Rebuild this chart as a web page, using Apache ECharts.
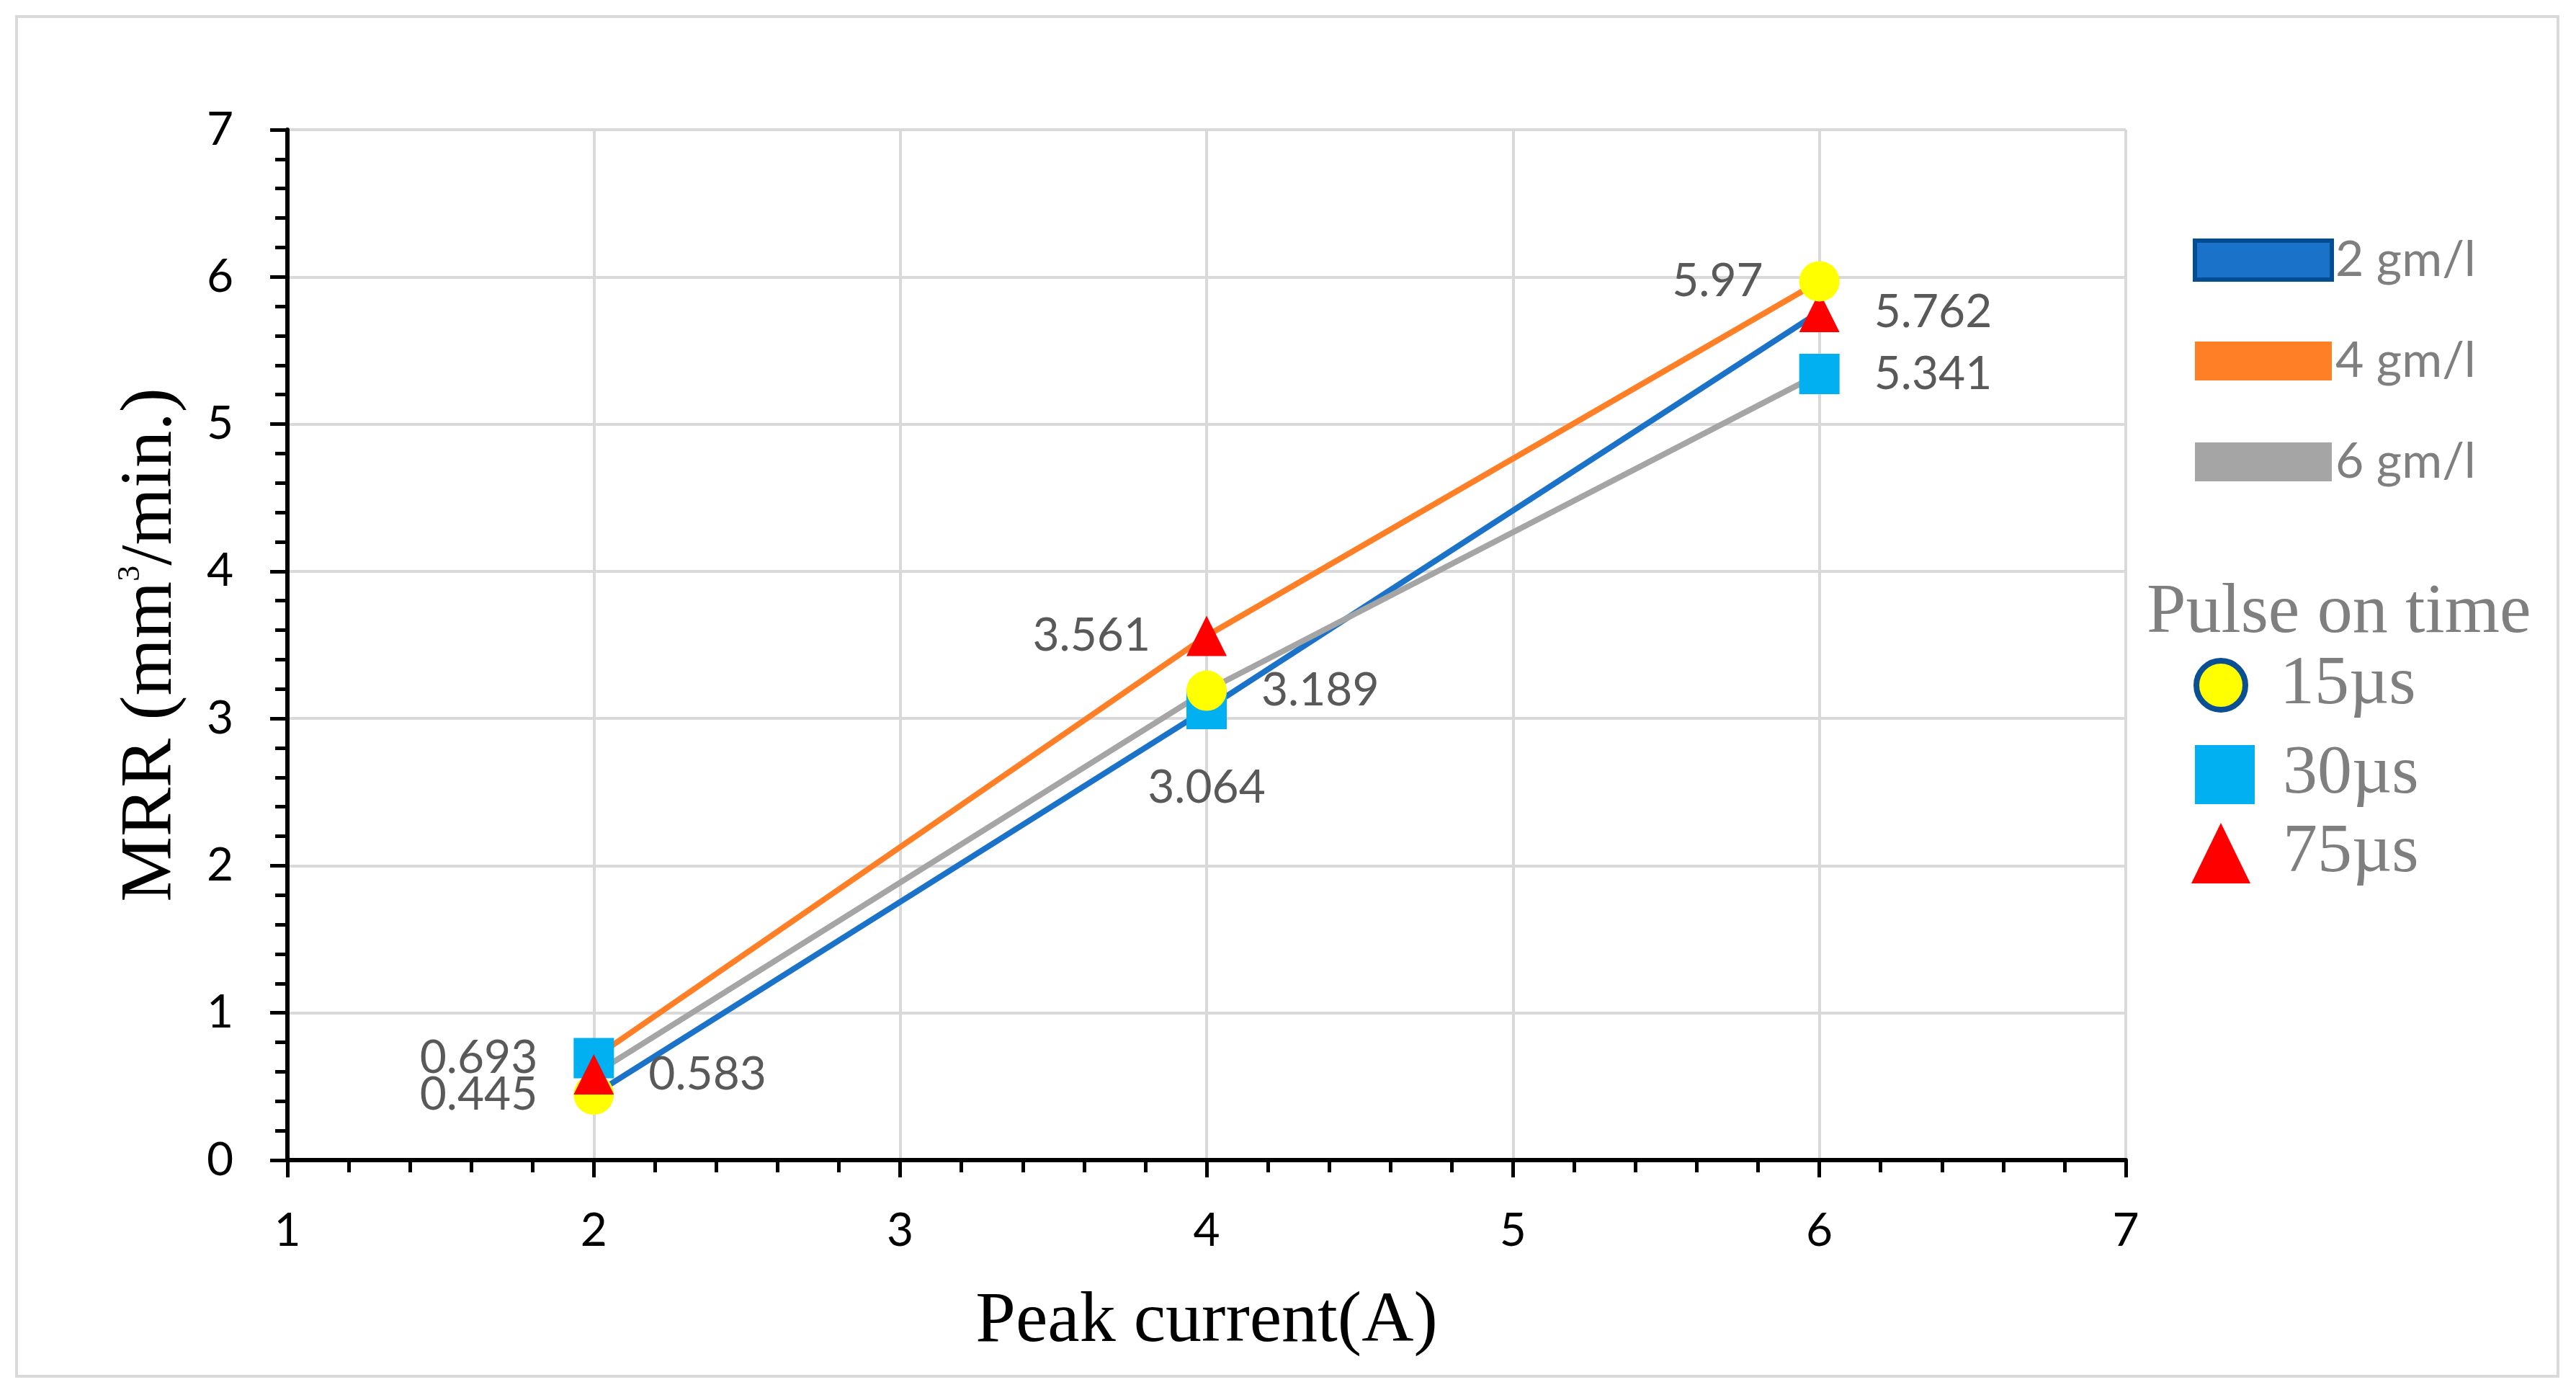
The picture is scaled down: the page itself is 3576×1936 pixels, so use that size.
<!DOCTYPE html>
<html><head><meta charset="utf-8">
<script src="https://cdn.jsdelivr.net/npm/echarts@6/dist/echarts.min.js"></script>
<style>html,body{margin:0;padding:0;background:#fff}#chart{width:3576px;height:1936px}</style>
</head><body><div id="chart"></div>
<script>
// ---- data ----
const peakCurrent = [2, 4, 6];
const seriesNames = ['2 gm/l', '4 gm/l', '6 gm/l'];
const mrr2 = [0.445, 3.064, 5.762];
const mrr4 = [0.693, 3.561, 5.97];
const mrr6 = [0.583, 3.189, 5.341];
const pulseNames = ['15µs', '30µs', '75µs'];
const pulse2 = ['15µs', '30µs', '75µs'];
const pulse4 = ['30µs', '75µs', '15µs'];
const pulse6 = ['75µs', '15µs', '30µs'];
const xTickValues = [1, 2, 3, 4, 5, 6, 7];
const yTickValues = [0, 1, 2, 3, 4, 5, 6, 7];
const xAxisTitle = 'Peak current(A)';
const yAxisTitle = 'MRR (mm{sup|3}/min.)';
const pulseTitle = 'Pulse on time';

// ---- styles ----
const lineColors = {'2 gm/l': '#1A73C8', '4 gm/l': '#FF7F27', '6 gm/l': '#A5A5A5'};
const pulseStyle = {
  '15µs': {symbol: 'circle', color: '#FFFF00'},
  '30µs': {symbol: 'rect', color: '#00B0F0'},
  '75µs': {symbol: 'triangle', color: '#FF0000'}
};
const labelPlacement = {
  '2 gm/l': ['left', 'bottom', 'right'],
  '4 gm/l': ['left', 'left', 'left'],
  '6 gm/l': ['right', 'right', 'right']
};
const labelDistance = {left: 50, right: 48, bottom: 49, top: 48};
const labelFont = 'Lato';
const serifFont = 'Liberation Serif';

function buildLine(name, values, pulses) {
  return {
    type: 'line', name: name, symbolSize: 56, showAllSymbol: true,
    lineStyle: {color: lineColors[name], width: 8, cap: 'round'},
    itemStyle: {color: lineColors[name]},
    label: {show: true, fontFamily: labelFont, fontSize: 64, color: '#595959',
      formatter: p => String(p.value[1])},
    emphasis: {disabled: true},
    data: values.map((v, i) => ({
      value: [peakCurrent[i], v],
      symbol: pulseStyle[pulses[i]].symbol,
      itemStyle: {color: pulseStyle[pulses[i]].color, borderWidth: 0, opacity: 1},
      label: {position: labelPlacement[name][i], distance: labelDistance[labelPlacement[name][i]]}
    }))
  };
}

const axisCommon = {
  axisLine: {onZero: false, lineStyle: {color: '#000', width: 6}},
  axisTick: {show: true, length: 24, lineStyle: {color: '#000', width: 5}},
  minorTick: {show: true, splitNumber: 5, length: 17, lineStyle: {color: '#000', width: 5}},
  splitLine: {show: true, lineStyle: {color: '#D9D9D9', width: 4}},
  minorSplitLine: {show: false}
};

const pulseLegendLayout = {
  '15µs': {left: 3045, top: 903, w: 68, h: 68, padTop: 26, pad: 43, extra: {borderColor: '#0B4F94', borderWidth: 8}},
  '30µs': {left: 3047, top: 1027, w: 83, h: 82, padTop: 8, pad: 34, extra: {borderWidth: 0}},
  '75µs': {left: 3042, top: 1136, w: 82, h: 84, padTop: 22, pad: 40, extra: {borderWidth: 0}}
};

const pulseLegends = pulseNames.map(n => ({
  data: [{name: n, icon: pulseStyle[n].symbol,
    itemStyle: Object.assign({color: pulseStyle[n].color, opacity: 1}, pulseLegendLayout[n].extra)}],
  left: pulseLegendLayout[n].left, top: pulseLegendLayout[n].top, padding: 0,
  itemWidth: pulseLegendLayout[n].w, itemHeight: pulseLegendLayout[n].h,
  selectedMode: false,
  textStyle: {fontFamily: serifFont, fontSize: 96, color: '#7F7F7F',
    padding: [pulseLegendLayout[n].padTop, 0, 0, pulseLegendLayout[n].pad]}
}));

const chart = echarts.init(document.getElementById('chart'), null, {renderer: 'canvas'});
chart.setOption({
  animation: false,
  backgroundColor: '#fff',
  graphic: [{type: 'rect', z: -10, shape: {x: 23, y: 23, width: 3528, height: 1887},
    style: {fill: '#fff', stroke: '#D9D9D9', lineWidth: 4}}],
  title: {text: pulseTitle, left: 2980, top: 802, padding: 0,
    textStyle: {fontFamily: serifFont, fontSize: 98, fontWeight: 'normal', color: '#7F7F7F'}},
  grid: {left: 399, right: 625, top: 180, bottom: 326, containLabel: false},
  legend: [{
    data: seriesNames.map((n, i) => ({name: n, itemStyle: i === 0
      ? {color: lineColors[n], borderColor: '#034E93', borderWidth: 6, opacity: 1}
      : {color: lineColors[n], borderWidth: 0, opacity: 1}})),
    orient: 'vertical', left: 3044, top: 327, padding: 0, icon: 'rect',
    itemWidth: 190, itemHeight: 54, itemGap: 72, selectedMode: false,
    textStyle: {fontFamily: labelFont, fontSize: 68, color: '#7F7F7F'}
  }].concat(pulseLegends),
  xAxis: Object.assign({
    type: 'value', min: xTickValues[0], max: xTickValues[xTickValues.length - 1], interval: 1,
    name: xAxisTitle, nameLocation: 'middle', nameGap: 175,
    nameTextStyle: {fontFamily: serifFont, fontSize: 100, color: '#000'},
    axisLabel: {margin: 66, fontFamily: labelFont, fontSize: 64, color: '#000'}
  }, axisCommon),
  yAxis: Object.assign({
    type: 'value', min: yTickValues[0], max: yTickValues[yTickValues.length - 1], interval: 1,
    name: yAxisTitle, nameLocation: 'middle', nameGap: 138, nameRotate: 90,
    nameTextStyle: {fontFamily: serifFont, fontSize: 102, color: '#000',
      rich: {sup: {fontFamily: serifFont, fontSize: 44, lineHeight: 44, verticalAlign: 'top', color: '#000'}}},
    axisLabel: {margin: 75, fontFamily: labelFont, fontSize: 64, color: '#000'}
  }, axisCommon),
  series: [
    buildLine('2 gm/l', mrr2, pulse2),
    buildLine('4 gm/l', mrr4, pulse4),
    buildLine('6 gm/l', mrr6, pulse6)
  ].concat(pulseNames.map(n => ({type: 'scatter', name: n, data: [],
    itemStyle: {color: pulseStyle[n].color, opacity: 1}})))
});
</script></body></html>
